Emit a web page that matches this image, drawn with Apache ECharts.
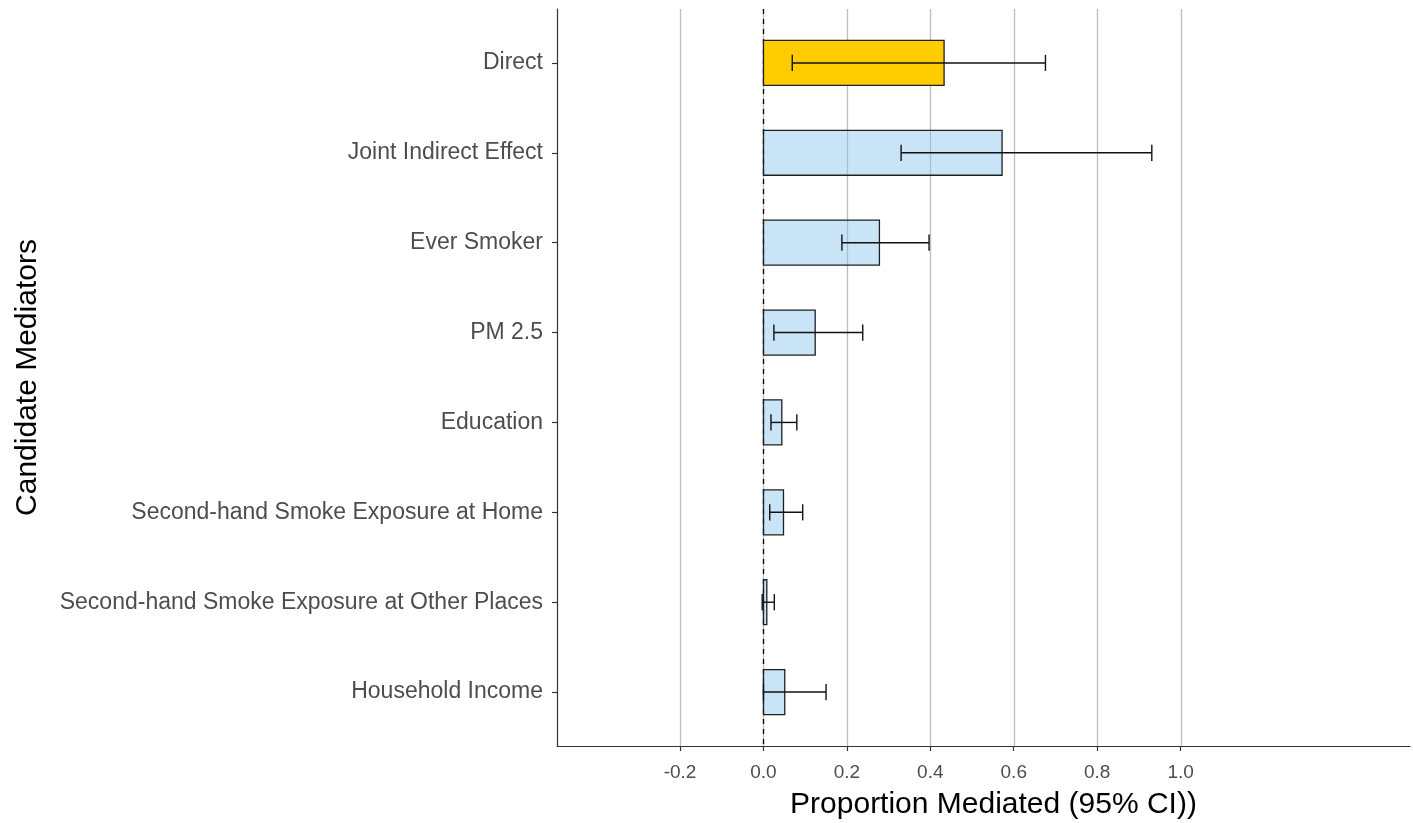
<!DOCTYPE html>
<html>
<head>
<meta charset="utf-8">
<title>Proportion Mediated</title>
<script src="https://cdn.jsdelivr.net/npm/echarts@6/dist/echarts.min.js"></script>
<style>
  html, body { margin: 0; padding: 0; background: #ffffff; }
  #chart { width: 1413px; height: 823px; }
</style>
</head>
<body>
<div id="chart"></div>
<script>
// Candidate mediators, listed top to bottom
const categories = [
  'Direct',
  'Joint Indirect Effect',
  'Ever Smoker',
  'PM 2.5',
  'Education',
  'Second-hand Smoke Exposure at Home',
  'Second-hand Smoke Exposure at Other Places',
  'Household Income'
];
// Proportion mediated (point estimate) and 95% CI bounds
const estimates = [0.433, 0.572, 0.278, 0.124, 0.044, 0.048, 0.008, 0.051];
const lowerCI   = [0.069, 0.330, 0.188, 0.025, 0.018, 0.015, -0.003, 0.000];
const upperCI   = [0.676, 0.931, 0.397, 0.238, 0.080, 0.094, 0.026, 0.150];
// X-axis breaks
const xBreaks = [-0.2, 0.0, 0.2, 0.4, 0.6, 0.8, 1.0];

const FONT = '"Liberation Sans", Arial, sans-serif';
const positions = categories.map((_, i) => i + 1);

const rows = categories.map((c, i) => [positions[i], estimates[i], lowerCI[i], upperCI[i], i]);

const chart = echarts.init(document.getElementById('chart'), null, { renderer: 'canvas' });

chart.setOption({
  backgroundColor: '#ffffff',
  animation: false,
  grid: { left: 557, right: 3, top: 9, bottom: 77, containLabel: false, outerBoundsMode: 'none' },
  xAxis: {
    type: 'value',
    min: -0.495,
    max: 1.55,
    name: 'Proportion Mediated (95% CI))',
    nameLocation: 'middle',
    nameGap: 44,
    nameTextStyle: { color: '#000000', fontSize: 30, fontFamily: FONT, verticalAlign: 'top', padding: [0, 0, 0, 20] },
    axisLine: { show: true, onZero: false, lineStyle: { color: '#333333', width: 1.2 } },
    axisTick: { show: true, length: 5, customValues: xBreaks, lineStyle: { color: '#333333', width: 1.2 } },
    axisLabel: {
      customValues: xBreaks,
      margin: 17,
      color: '#4d4d4d',
      fontSize: 19,
      fontFamily: FONT,
      formatter: v => v.toFixed(1)
    },
    splitLine: { show: false }
  },
  yAxis: {
    type: 'value',
    inverse: true,
    min: 0.4,
    max: 8.6,
    name: 'Candidate Mediators',
    nameLocation: 'middle',
    nameRotate: 90,
    nameGap: 514,
    nameTextStyle: { color: '#000000', fontSize: 30, fontFamily: FONT },
    axisLine: { show: true, onZero: false, lineStyle: { color: '#333333', width: 1.2 } },
    axisTick: { show: true, length: 5, customValues: positions, lineStyle: { color: '#333333', width: 1.2 } },
    axisLabel: {
      customValues: positions,
      margin: 14,
      color: '#4d4d4d',
      fontSize: 23,
      fontFamily: FONT,
      formatter: v => categories[Math.round(v) - 1] || ''
    },
    splitLine: { show: false }
  },
  series: [
    {
      // vertical grid lines at the x breaks
      type: 'custom',
      silent: true,
      z: 1,
      data: xBreaks.map(b => [b]),
      encode: { x: 0 },
      renderItem: (params, api) => {
        const x = api.value(0);
        const top = api.coord([x, 0.4]);
        const bot = api.coord([x, 8.6]);
        const px = Math.round(top[0]) + 0.5;
        return {
          type: 'line',
          shape: { x1: px, y1: top[1], x2: px, y2: bot[1] },
          style: { stroke: '#bdbdbd', lineWidth: 1.3 }
        };
      }
    },
    {
      // dashed reference line at zero
      type: 'custom',
      silent: true,
      z: 2,
      data: [[0]],
      encode: { x: 0 },
      renderItem: (params, api) => {
        const top = api.coord([0, 0.4]);
        const bot = api.coord([0, 8.6]);
        const px = Math.round(top[0]) + 0.5;
        return {
          type: 'line',
          shape: { x1: px, y1: top[1], x2: px, y2: bot[1] },
          style: { stroke: '#000000', lineWidth: 1.3, lineDash: [5, 5] }
        };
      }
    },
    {
      // bars for the point estimates
      type: 'custom',
      z: 3,
      data: rows,
      encode: { y: 0, x: [1, 2, 3] },
      renderItem: (params, api) => {
        const y = api.value(0);
        const est = api.value(1);
        const idx = api.value(4);
        const p0 = api.coord([0, y]);
        const p1 = api.coord([est, y]);
        const h = api.size([0, 0.5])[1];
        const x0 = Math.min(p0[0], p1[0]);
        return {
          type: 'rect',
          shape: { x: x0, y: p0[1] - h / 2, width: Math.abs(p1[0] - p0[0]), height: h },
          style: {
            fill: idx === 0 ? '#ffcc00' : 'rgba(140, 199, 236, 0.48)',
            stroke: '#1f1f1f',
            lineWidth: 1.3
          }
        };
      }
    },
    {
      // 95% confidence interval whiskers
      type: 'custom',
      z: 4,
      data: rows,
      encode: { y: 0, x: [1, 2, 3] },
      renderItem: (params, api) => {
        const y = api.value(0);
        const lo = api.coord([api.value(2), y]);
        const hi = api.coord([api.value(3), y]);
        const cap = api.size([0, 0.18])[1] / 2;
        const st = { stroke: '#111111', lineWidth: 1.4 };
        return {
          type: 'group',
          children: [
            { type: 'line', shape: { x1: lo[0], y1: lo[1], x2: hi[0], y2: hi[1] }, style: st },
            { type: 'line', shape: { x1: lo[0], y1: lo[1] - cap, x2: lo[0], y2: lo[1] + cap }, style: st },
            { type: 'line', shape: { x1: hi[0], y1: hi[1] - cap, x2: hi[0], y2: hi[1] + cap }, style: st }
          ]
        };
      }
    }
  ]
});
</script>
</body>
</html>
